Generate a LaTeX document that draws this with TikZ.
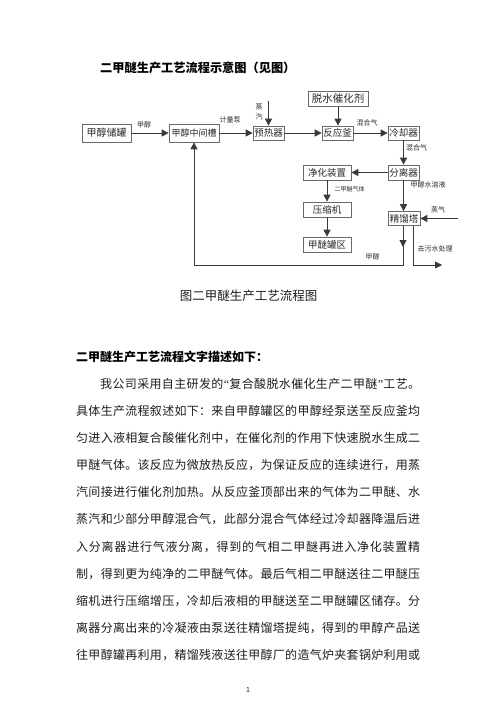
\documentclass[tikz,border=0pt]{standalone}
\usepackage{fontspec}
\newfontfamily\cjk{Noto Sans CJK SC}
\newfontfamily\qfont{Liberation Serif}
\usetikzlibrary{arrows.meta}
\definecolor{linegray}{HTML}{3A3A3A}
\definecolor{boxgray}{HTML}{6A6A6A}
\definecolor{txtgray}{HTML}{2A2A2A}
\definecolor{bodyink}{HTML}{1E1E1E}
\ExplSyntaxOn
\NewDocumentCommand{\spreadline}{mm}
  { \hbox_to_wd:nn {#1} { \tl_map_inline:nn {#2} { ##1 \hfil } \unskip } }
\ExplSyntaxOff
\tikzset{
  box/.style={draw=boxgray, line width=0.7pt, inner sep=0pt, text=txtgray,
    font=\cjk\fontsize{9.5}{10}\selectfont},
  lbl/.style={inner sep=0pt, text=txtgray, font=\cjk\fontsize{7}{8}\selectfont},
  arr/.style={draw=linegray, line width=0.8pt, -{Triangle[length=7pt,width=7pt]}},
  ln/.style={draw=linegray, line width=0.8pt},
  body/.style={inner sep=0pt, anchor=west, text=bodyink, font=\cjk\fontsize{12}{12}\selectfont}
}
\begin{document}
\begin{tikzpicture}[x=1pt,y=-1pt]
\useasboundingbox[fill=white] (0,0) rectangle (496,702);

% title
\node[inner sep=0pt, anchor=west, font=\cjk\bfseries\fontsize{12.2}{13}\selectfont] (title) at (100,68) {二甲醚生产工艺流程示意图（见图）};

% boxes
\node[box, minimum width=49pt, minimum height=18pt, font=\cjk\fontsize{10}{10}\selectfont] (cg) at (106.5,133) {甲醇储罐};
\node[box, minimum width=50pt, minimum height=18pt, font=\cjk\fontsize{9}{10}\selectfont] (zj) at (194,133) {甲醇中间槽};
\node[box, minimum width=31pt, minimum height=14pt] (yr) at (268.5,133) {预热器};
\node[box, minimum width=31pt, minimum height=14pt] (fy) at (337.5,133) {反应釜};
\node[box, minimum width=60pt, minimum height=15pt, font=\cjk\fontsize{10.5}{11}\selectfont] (cat) at (338,99) {脱水催化剂};
\node[box, minimum width=31pt, minimum height=14pt] (lq) at (403.5,133) {冷却器};
\node[box, minimum width=31pt, minimum height=15pt] (fl) at (403.5,172.5) {分离器};
\node[box, minimum width=48pt, minimum height=15pt] (jh) at (327,172.5) {净化装置};
\node[box, minimum width=48pt, minimum height=15pt] (ys) at (327,209.5) {压缩机};
\node[box, minimum width=48pt, minimum height=15pt] (gq) at (327,244.5) {甲醚罐区};
\node[box, minimum width=32pt, minimum height=14pt] (jl) at (404,218.5) {精馏塔};

% free ends
\coordinate (s1) at (268.5,101);
\coordinate (s2) at (458,218.5);
\coordinate (rm) at (403,247);
\coordinate (rb) at (403,265);
\coordinate (wb) at (413,265);
\coordinate (we) at (442,265);

% connectors
\draw[arr] (cg) -- (zj);
\draw[arr] (zj) -- (yr);
\draw[arr] (s1) -- (yr.north);
\draw[arr] (yr) -- (fy);
\draw[arr] (cat.south) -- (cat.south |- fy.north);
\draw[arr] (fy) -- (lq);
\draw[arr] (lq) -- (fl);
\draw[arr] (fl) -- (jh);
\draw[arr] (jh) -- (ys);
\draw[arr] (ys) -- (gq);
\draw[arr] (fl.south) -- (fl.south |- jl.north);
\draw[arr] (s2) -- (jl.east);
\draw[arr] (jl.south -| rb) -- (rm);
\draw[arr] (jl.south -| rb) -- (rb) -| (zj.south);
\draw[arr] (jl.south -| wb) -- (wb) -- (we);

% connector labels
\node[lbl] (l1) at (144,124.5) {甲醇};
\node[lbl] (l2) at (230,120) {计量泵};
\node[lbl, align=center, font=\cjk\fontsize{7}{10}\selectfont] (l3) at (259,112) {蒸\\汽};
\node[lbl] (l4) at (367,122.5) {混合气};
\node[lbl] (l5) at (416.5,147.5) {混合气};
\node[lbl, font=\cjk\fontsize{6}{7}\selectfont] (l6) at (349.5,189) {二甲醚气体};
\node[lbl] (l7) at (428,185) {甲醇水溶液};
\node[lbl] (l8) at (438,210) {蒸气};
\node[lbl] (l9) at (372.5,257) {甲醇};
\node[lbl] (l10) at (435,249) {去污水处理};

% caption
\node[inner sep=0pt, text=bodyink, font=\cjk\fontsize{12.5}{13}\selectfont] (cap) at (248.5,296) {图二甲醚生产工艺流程图};

% heading
\node[inner sep=0pt, anchor=west, font=\cjk\bfseries\fontsize{12}{13}\selectfont] (head) at (76,357) {二甲醚生产工艺流程文字描述如下：};

% body
\node[body] (b0) at (100,384) {\spreadline{320pt}{我公司采用自主研发的{{\qfont “}}复合酸脱水催化生产二甲醚{{\qfont ”}}工艺。}};
\node[body] (b1) at (76,411.1) {\spreadline{344pt}{具体生产流程叙述如下：来自甲醇罐区的甲醇经泵送至反应釜均}};
\node[body] (b2) at (76,438.2) {\spreadline{344pt}{匀进入液相复合酸催化剂中，在催化剂的作用下快速脱水生成二}};
\node[body] (b3) at (76,465.3) {\spreadline{344pt}{甲醚气体。该反应为微放热反应，为保证反应的连续进行，用蒸}};
\node[body] (b4) at (76,492.4) {\spreadline{344pt}{汽间接进行催化剂加热。从反应釜顶部出来的气体为二甲醚、水}};
\node[body] (b5) at (76,519.5) {\spreadline{344pt}{蒸汽和少部分甲醇混合气，此部分混合气体经过冷却器降温后进}};
\node[body] (b6) at (76,546.6) {\spreadline{344pt}{入分离器进行气液分离，得到的气相二甲醚再进入净化装置精}};
\node[body] (b7) at (76,573.7) {\spreadline{344pt}{制，得到更为纯净的二甲醚气体。最后气相二甲醚送往二甲醚压}};
\node[body] (b8) at (76,600.8) {\spreadline{344pt}{缩机进行压缩增压，冷却后液相的甲醚送至二甲醚罐区储存。分}};
\node[body] (b9) at (76,627.9) {\spreadline{344pt}{离器分离出来的冷凝液由泵送往精馏塔提纯，得到的甲醇产品送}};
\node[body] (b10) at (76,655) {\spreadline{344pt}{往甲醇罐再利用，精馏残液送往甲醇厂的造气炉夹套锅炉利用或}};

% page number
\node[inner sep=0pt, text=bodyink, font=\cjk\fontsize{7}{8}\selectfont] (pg) at (248,690) {1};
\end{tikzpicture}
\end{document}
